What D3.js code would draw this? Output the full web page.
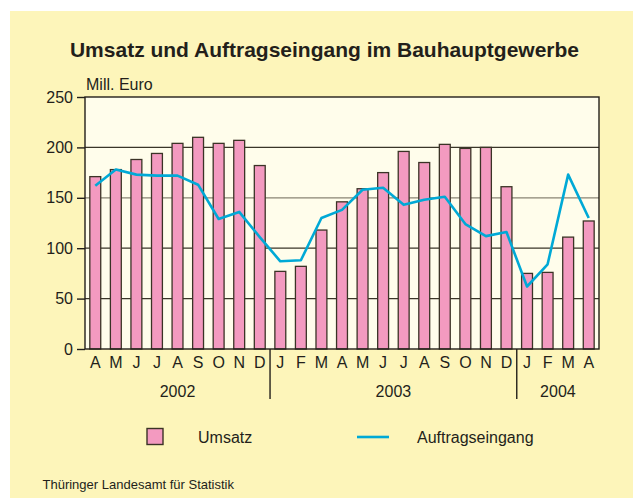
<!DOCTYPE html>
<html>
<head>
<meta charset="utf-8">
<script src="https://cdn.jsdelivr.net/npm/d3@7"></script>
<style>
  body { margin: 0; background: #fff; }
  svg { display: block; font-family: "Liberation Sans", Arial, sans-serif; }
  text { fill: #231f1a; }
</style>
</head>
<body>
<svg id="chart" width="633" height="498"></svg>
<script>
// Monatswerte April 2002 bis April 2004 (Mill. Euro)
const monthLabels = ["A","M","J","J","A","S","O","N","D",
                     "J","F","M","A","M","J","J","A","S","O","N","D",
                     "J","F","M","A"];
const years = ["2002", "2003", "2004"];
const monthsPerYear = [9, 12, 4];
const umsatz = [171,178,188,194,204,210,204,207,182,
                77,82,118,146,159,175,196,185,203,199,200,161,
                75,76,111,127];
const auftragseingang = [162,178,173,172,172,163,129,136,111,
                         87,88,130,138,158,160,143,148,151,124,112,116,
                         62,84,173,130];
const yTicks = [0, 50, 100, 150, 200, 250];

const plot = { left: 85, right: 599, top: 97, bottom: 349 };

const svg = d3.select("#chart");

// Hintergrund
svg.append("rect")
  .attr("x", 10).attr("y", 11)
  .attr("width", 623).attr("height", 487)
  .attr("fill", "#fdf5ba");

svg.append("rect")
  .attr("x", plot.left).attr("y", plot.top)
  .attr("width", plot.right - plot.left)
  .attr("height", plot.bottom - plot.top)
  .attr("fill", "#fffdeb");

// Titel
svg.append("text")
  .attr("x", 324.5).attr("y", 57)
  .attr("text-anchor", "middle")
  .attr("font-size", 21)
  .attr("font-weight", "bold")
  .text("Umsatz und Auftragseingang im Bauhauptgewerbe");

svg.append("text")
  .attr("x", 86).attr("y", 90)
  .attr("font-size", 16)
  .text("Mill. Euro");

const idx = d3.range(monthLabels.length);

const x = d3.scaleBand()
  .domain(idx)
  .range([plot.left, plot.right])
  .paddingInner(0.47)
  .paddingOuter(0.235);

const y = d3.scaleLinear()
  .domain([0, 250])
  .range([plot.bottom, plot.top]);

// Gitterlinien
svg.selectAll("line.grid")
  .data(yTicks.filter(d => d > 0 && d < 250))
  .enter()
  .append("line")
    .attr("class", "grid")
    .attr("x1", plot.left).attr("x2", plot.right)
    .attr("y1", d => y(d)).attr("y2", d => y(d))
    .attr("stroke", d => d === 150 ? "#8a8474" : "#3a3528")
    .attr("stroke-width", 1.2);

// Balken (Umsatz)
svg.selectAll("rect.bar")
  .data(umsatz)
  .enter()
  .append("rect")
    .attr("class", "bar")
    .attr("x", (d, i) => x(i))
    .attr("y", d => y(d))
    .attr("width", x.bandwidth())
    .attr("height", d => y(0) - y(d))
    .attr("fill", "#f39ac0")
    .attr("stroke", "#3b3326")
    .attr("stroke-width", 1.3);

// Linie (Auftragseingang)
const line = d3.line()
  .x((d, i) => x(i) + x.bandwidth() / 2)
  .y(d => y(d));

svg.append("path")
  .datum(auftragseingang)
  .attr("d", line)
  .attr("fill", "none")
  .attr("stroke", "#00a9d6")
  .attr("stroke-width", 2.6)
  .attr("stroke-linejoin", "round");

// Rahmen
svg.append("rect")
  .attr("x", plot.left).attr("y", plot.top)
  .attr("width", plot.right - plot.left)
  .attr("height", plot.bottom - plot.top)
  .attr("fill", "none")
  .attr("stroke", "#231f1a")
  .attr("stroke-width", 1.4);

// Y-Achse
const yAxis = d3.axisLeft(y)
  .tickValues(yTicks)
  .tickSize(8)
  .tickPadding(4);

const gy = svg.append("g")
  .attr("transform", `translate(${plot.left},0)`)
  .call(yAxis);
gy.select(".domain").remove();
gy.selectAll("line").attr("stroke", "#231f1a").attr("stroke-width", 1.4);
gy.selectAll("text")
  .attr("font-size", 16)
  .attr("font-family", "Liberation Sans, Arial, sans-serif")
  .attr("fill", "#231f1a");

// X-Achse (Monate)
const xAxis = d3.axisBottom(x)
  .tickSize(0)
  .tickPadding(7.5)
  .tickFormat(i => monthLabels[i]);

const gx = svg.append("g")
  .attr("transform", `translate(0,${plot.bottom})`)
  .call(xAxis);
gx.select(".domain").remove();
gx.selectAll("text")
  .attr("font-size", 16)
  .attr("font-family", "Liberation Sans, Arial, sans-serif")
  .attr("fill", "#231f1a");

// Jahre
const yearStart = d3.cumsum([0].concat(monthsPerYear)).slice(0, years.length);
const edge = i => i >= monthLabels.length
  ? plot.right
  : x(i) - x.step() * x.paddingInner() / 2;

svg.selectAll("line.sep")
  .data(yearStart.slice(1))
  .enter()
  .append("line")
    .attr("class", "sep")
    .attr("x1", d => edge(d)).attr("x2", d => edge(d))
    .attr("y1", plot.bottom).attr("y2", 399)
    .attr("stroke", "#231f1a")
    .attr("stroke-width", 1.4);

svg.selectAll("text.year")
  .data(years)
  .enter()
  .append("text")
    .attr("class", "year")
    .attr("x", (d, k) => (edge(yearStart[k]) + edge(yearStart[k] + monthsPerYear[k])) / 2)
    .attr("y", 396.5)
    .attr("text-anchor", "middle")
    .attr("font-size", 16)
    .text(d => d);

// Legende
svg.append("rect")
  .attr("x", 147).attr("y", 428.5)
  .attr("width", 16).attr("height", 16)
  .attr("fill", "#f39ac0")
  .attr("stroke", "#3b3326")
  .attr("stroke-width", 1.4);

svg.append("text")
  .attr("x", 198).attr("y", 442.5)
  .attr("font-size", 16)
  .text("Umsatz");

svg.append("line")
  .attr("x1", 357).attr("x2", 389)
  .attr("y1", 437).attr("y2", 437)
  .attr("stroke", "#00a9d6")
  .attr("stroke-width", 2.6);

svg.append("text")
  .attr("x", 417).attr("y", 442.5)
  .attr("font-size", 16)
  .text("Auftragseingang");

// Quelle
svg.append("text")
  .attr("x", 42.5).attr("y", 489)
  .attr("font-size", 13)
  .text("Thüringer Landesamt für Statistik");
</script>
</body>
</html>
